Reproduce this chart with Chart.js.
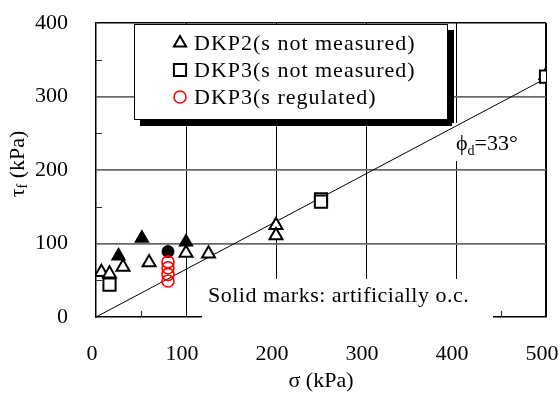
<!DOCTYPE html>
<html>
<head>
<meta charset="utf-8">
<script src="https://cdn.jsdelivr.net/npm/chart.js@4/dist/chart.umd.min.js"></script>
<style>
  html, body { margin: 0; padding: 0; background: #fff; }
  #wrap { width: 560px; height: 397px; }
</style>
</head>
<body>
<div id="wrap"><canvas id="c" width="560" height="397"></canvas></div>
<script>
const FONT = "'Liberation Serif', 'Times New Roman', Times, serif";

// Normal stress σ (kPa) and shear strength τf (kPa) of each test
const dkp2Sigma  = [6, 15, 30, 59, 100, 125, 200, 200, 500];
const dkp2Tau    = [61, 59, 68, 74, 87, 86, 125, 111, 329];
const dkp3Sigma  = [15, 250, 250, 500];
const dkp3Tau    = [44, 160, 157, 327];
const regSigma   = [80, 80, 80, 80];
const regTau     = [75, 67, 58, 49];
// artificially over-consolidated specimens (solid marks)
const ocTriSigma = [25, 51, 100];
const ocTriTau   = [83, 107, 102];
const ocCirSigma = [80];
const ocCirTau   = [89];

// drained friction angle of the failure envelope (degrees)
const phiD = 33;
const envSigma = [0, 500];
const envTau = envSigma.map(s => s * Math.tan(phiD * Math.PI / 180));

// axis ticks
const xTickValues = [0, 100, 200, 300, 400, 500];
const yTickValues = [0, 100, 200, 300, 400];
const minorX = [50, 150, 250, 350, 450];
const minorY = [50, 150, 250, 350];

// legend rows, top to bottom
const legendOrder = ['DKP2(s not measured)', 'DKP3(s not measured)', 'DKP3(s regulated)'];

const pts = (xs, ys) => xs.map((x, i) => ({ x: x, y: ys[i] }));

const overlay = {
  id: 'overlay',
  beforeDatasetsDraw(chart) {
    const { ctx, scales: { x, y } } = chart;
    ctx.save();
    // short inward minor ticks
    ctx.strokeStyle = '#333';
    ctx.lineWidth = 1.2;
    ctx.beginPath();
    minorY.forEach(v => {
      const py = Math.round(y.getPixelForValue(v)) + 0.5;
      ctx.moveTo(x.left, py); ctx.lineTo(x.left + 6, py);
    });
    minorX.forEach(v => {
      const px = Math.round(x.getPixelForValue(v)) + 0.5;
      ctx.moveTo(px, y.bottom); ctx.lineTo(px, y.bottom - 6);
    });
    ctx.stroke();

    // legend frame with drop shadow
    ctx.fillStyle = '#000';
    ctx.fillRect(140, 30, 314, 96);
    ctx.fillStyle = '#fff';
    ctx.fillRect(134, 24, 314, 96);
    ctx.strokeStyle = '#000';
    ctx.lineWidth = 1;
    ctx.strokeRect(134.5, 24.5, 313, 95);

    // backgrounds of the two notes
    ctx.fillStyle = '#fff';
    ctx.fillRect(452, 123, 72, 38);
    ctx.fillRect(202, 279, 291, 42);

    // notes
    ctx.fillStyle = '#000';
    ctx.textBaseline = 'alphabetic';
    ctx.textAlign = 'left';
    ctx.font = '22px ' + FONT;
    ctx.letterSpacing = '0.5px';
    ctx.fillText('Solid marks: artificially o.c.', 208, 302);
    ctx.letterSpacing = '0px';

    let tx = 456;
    ctx.font = '22px ' + FONT;
    ctx.fillText('\u03D5', tx, 150);
    tx += ctx.measureText('\u03D5').width;
    ctx.font = '14px ' + FONT;
    ctx.fillText('d', tx, 155);
    tx += ctx.measureText('d').width;
    ctx.font = '22px ' + FONT;
    ctx.fillText('=' + phiD + '\u00B0', tx, 150);
    ctx.restore();
  },
  afterDatasetsDraw(chart) {
    const { ctx } = chart;
    ctx.save();
    legendOrder.forEach((name, i) => {
      const ds = chart.data.datasets.find(d => d.label === name);
      const cy = 43 + 27 * i;
      ctx.fillStyle = ds.backgroundColor;
      ctx.strokeStyle = ds.borderColor;
      ctx.lineWidth = ds.borderWidth;
      Chart.helpers.drawPoint(ctx, {
        pointStyle: ds.pointStyle,
        radius: ds.legendRadius,
        rotation: 0,
        borderWidth: ds.borderWidth
      }, 180, cy);
      ctx.fillStyle = '#000';
      ctx.font = '22px ' + FONT;
      ctx.letterSpacing = '1px';
      ctx.textBaseline = 'alphabetic';
      ctx.textAlign = 'left';
      ctx.fillText(ds.label, 194, cy + 7);
      ctx.letterSpacing = '0px';
    });
    ctx.restore();
  },
  afterDraw(chart) {
    const { ctx } = chart;
    ctx.save();
    ctx.translate(18, 164);
    ctx.rotate(-Math.PI / 2);
    ctx.fillStyle = '#000';
    ctx.textBaseline = 'middle';
    ctx.textAlign = 'left';
    ctx.font = '22px ' + FONT;
    const w1 = ctx.measureText('\u03C4').width;
    const w3 = ctx.measureText(' (kPa)').width;
    ctx.font = '14px ' + FONT;
    const w2 = ctx.measureText('f').width;
    let tx = -(w1 + w2 + w3) / 2;
    ctx.font = '22px ' + FONT;
    ctx.fillText('\u03C4', tx, 0);
    tx += w1;
    ctx.font = '14px ' + FONT;
    ctx.fillText('f', tx, 5);
    tx += w2;
    ctx.font = '22px ' + FONT;
    ctx.fillText(' (kPa)', tx, 0);
    ctx.restore();
  }
};

new Chart(document.getElementById('c'), {
  type: 'scatter',
  data: {
    datasets: [
      {
        label: 'DKP3(s regulated)',
        data: pts(regSigma, regTau),
        pointStyle: 'circle', pointRadius: 6, legendRadius: 6,
        borderColor: '#ff0000', backgroundColor: 'rgba(255,255,255,0)', borderWidth: 1.6
      },
      {
        label: 'DKP3(s not measured)',
        data: pts(dkp3Sigma, dkp3Tau),
        pointStyle: 'rect', pointRadius: 8.6, legendRadius: 8.6,
        borderColor: '#000', backgroundColor: '#fff', borderWidth: 2
      },
      {
        label: 'DKP2(s not measured)',
        data: pts(dkp2Sigma, dkp2Tau),
        pointStyle: 'triangle', pointRadius: 7.5, legendRadius: 7,
        borderColor: '#000', backgroundColor: '#fff', borderWidth: 2
      },
      {
        label: 'DKP2 o.c.',
        data: pts(ocTriSigma, ocTriTau),
        pointStyle: 'triangle', pointRadius: 7.5,
        borderColor: '#000', backgroundColor: '#000', borderWidth: 1.5
      },
      {
        label: 'DKP3 o.c.',
        data: pts(ocCirSigma, ocCirTau),
        pointStyle: 'circle', pointRadius: 6,
        borderColor: '#000', backgroundColor: '#000', borderWidth: 1
      },
      {
        type: 'line',
        label: 'envelope',
        data: pts(envSigma, envTau),
        borderColor: '#000', borderWidth: 1, pointRadius: 0, fill: false, showLine: true
      }
    ]
  },
  options: {
    responsive: false,
    animation: false,
    devicePixelRatio: 1,
    layout: { padding: { top: 23, right: 14, left: 0, bottom: 0 } },
    plugins: { legend: { display: false }, tooltip: { enabled: false } },
    scales: {
      x: {
        type: 'linear', min: 0, max: 500,
        afterBuildTicks: s => { s.ticks = xTickValues.map(v => ({ value: v })); },
        afterFit: s => { s.height = 80; s.paddingLeft = 0; s.paddingRight = 0; },
        ticks: {
          font: { family: FONT, size: 22 }, color: '#000',
          padding: 24, labelOffset: -4, maxRotation: 0, autoSkip: false
        },
        grid: {
          drawTicks: false,
          color: c => {
            const v = c.tick ? c.tick.value : null;
            if (v === 0) return 'rgba(0,0,0,0)';
            return '#000';
          },
          lineWidth: c => (c.tick && c.tick.value === 500) ? 2 : 1
        },
        border: { display: true, color: '#000', width: 1.5 },
        title: {
          display: true, text: '\u03C3 (kPa)', color: '#000',
          font: { family: FONT, size: 22 }, padding: { top: 0, bottom: 3 }
        }
      },
      y: {
        type: 'linear', min: 0, max: 400,
        afterBuildTicks: s => { s.ticks = yTickValues.map(v => ({ value: v })); },
        afterFit: s => { s.width = 96; s.paddingTop = 0; s.paddingBottom = 0; },
        ticks: { font: { family: FONT, size: 22 }, color: '#000', padding: 28 },
        grid: {
          drawTicks: false,
          color: c => {
            const v = c.tick ? c.tick.value : null;
            if (v === 0) return 'rgba(0,0,0,0)';
            if (v === 400) return '#000';
            return '#6a6a6a';
          },
          lineWidth: c => (c.tick && c.tick.value === 400) ? 1.5 : 1.8
        },
        border: { display: true, color: '#000', width: 1.5 }
      }
    }
  },
  plugins: [overlay]
});
</script>
</body>
</html>
